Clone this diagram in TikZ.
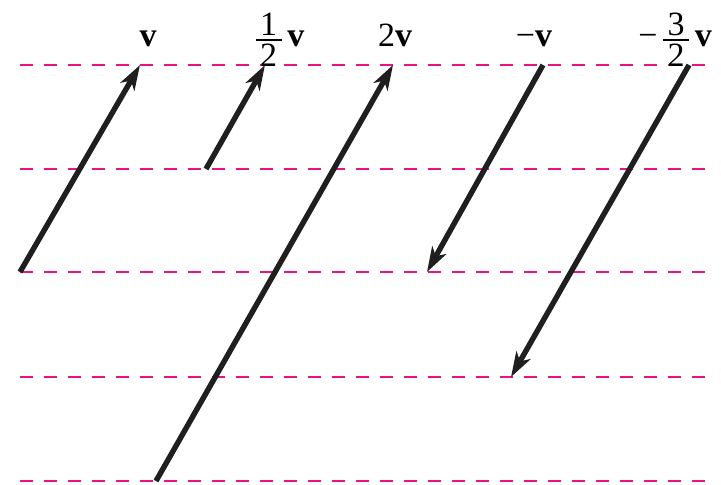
\documentclass[tikz,border=0pt]{standalone}
\usepackage{fontspec}
\setmainfont{Liberation Serif}
\usetikzlibrary{arrows.meta}
\definecolor{guide}{RGB}{232,20,135}
\newcommand{\myfr}[2]{\ensuremath{\vcenter{\hbox{\vbox{\offinterlineskip\halign{\hfil##\hfil\cr\hbox{#1}\cr\noalign{\kern3pt}\rule{26pt}{1.8pt}\cr\noalign{\kern3pt}\hbox{#2}\cr}}}}}}
\tikzset{
  guideline/.style={draw=guide, line width=2.8pt, dash pattern=on 12.5pt off 11.5pt},
  vec/.style={draw=black!88, line width=5.4pt, -{Stealth[length=25pt,width=16pt,inset=7pt]}},
  vlabel/.style={anchor=base, inner sep=0pt, font=\fontsize{34}{38}\selectfont}
}
\begin{document}
\begin{tikzpicture}[x=1pt,y=-1pt]
\useasboundingbox (0,0) rectangle (721,485);
% guide lines
\foreach \name/\yy in {g0/65, g1/169, g2/272, g3/377, g4/481}{
  \coordinate (\name l) at (20,\yy);
  \coordinate (\name r) at (712,\yy);
  \path[guideline] (\name l) -- (\name r);
}
% vector end points
\coordinate (va) at (20,272);   \coordinate (vb) at (140,65);
\coordinate (ha) at (206,169);  \coordinate (hb) at (265,65);
\coordinate (da) at (156,481);  \coordinate (db) at (393,65);
\coordinate (na) at (543,65);   \coordinate (nb) at (427,272);
\coordinate (ta) at (689,65);   \coordinate (tb) at (511,377);
\path[vec] (va) -- (vb);
\path[vec] (ha) -- (hb);
\path[vec] (da) -- (db);
\path[vec] (na) -- (nb);
\path[vec] (ta) -- (tb);
% labels
\node[vlabel] (lv) at (148,46) {\textbf{v}};
\node[vlabel] (lh) at (280,46) {\myfr{1}{2}\,\textbf{v}};
\node[vlabel] (ld) at (395,46) {2\textbf{v}};
\node[vlabel] (ln) at (534,46) {−\textbf{v}};
\node[vlabel] (lt) at (675,46) {−\,\myfr{3}{2}\,\textbf{v}};
\end{tikzpicture}
\end{document}
